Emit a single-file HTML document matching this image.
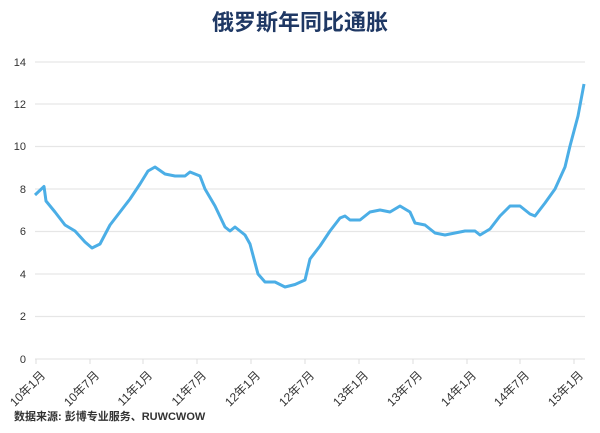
<!DOCTYPE html>
<html><head><meta charset="utf-8"><style>
body{margin:0;background:#fff;width:600px;height:428px;overflow:hidden;font-family:"Liberation Sans","Noto Sans CJK SC",sans-serif;}
</style></head><body>
<svg width="600" height="428" xmlns="http://www.w3.org/2000/svg" font-family="Liberation Sans, Noto Sans CJK SC, sans-serif">
<text x="300" y="30" text-anchor="middle" font-size="22" font-weight="bold" fill="#1f3864" font-family="Noto Sans CJK SC, sans-serif">俄罗斯年同比通胀</text>
<g stroke="#e6e6e6" stroke-width="1.2">
<line x1="35" x2="585" y1="62" y2="62"/><line x1="35" x2="585" y1="104" y2="104"/>
<line x1="35" x2="585" y1="146.5" y2="146.5"/><line x1="35" x2="585" y1="189" y2="189"/>
<line x1="35" x2="585" y1="231.5" y2="231.5"/><line x1="35" x2="585" y1="274" y2="274"/>
<line x1="35" x2="585" y1="316.5" y2="316.5"/><line x1="35" x2="585" y1="359" y2="359"/>
</g>
<g font-size="11" fill="#333" text-anchor="end">
<text x="26" y="66">14</text><text x="26" y="108">12</text><text x="26" y="150">10</text>
<text x="26" y="193">8</text><text x="26" y="235">6</text><text x="26" y="278">4</text>
<text x="26" y="320">2</text><text x="26" y="363">0</text>
</g>
<g stroke="#ddd" stroke-width="1">
<line x1="36" x2="36" y1="359" y2="364"/><line x1="90" x2="90" y1="359" y2="364"/>
<line x1="143" x2="143" y1="359" y2="364"/><line x1="197" x2="197" y1="359" y2="364"/>
<line x1="251" x2="251" y1="359" y2="364"/><line x1="305" x2="305" y1="359" y2="364"/>
<line x1="359" x2="359" y1="359" y2="364"/><line x1="413" x2="413" y1="359" y2="364"/>
<line x1="467" x2="467" y1="359" y2="364"/><line x1="520" x2="520" y1="359" y2="364"/>
<line x1="574" x2="574" y1="359" y2="364"/>
</g>
<g font-size="12" fill="#333" text-anchor="end" font-family="Liberation Sans, Noto Sans CJK SC, sans-serif">
<text transform="translate(46,376) rotate(-45)">10年1月</text>
<text transform="translate(100,376) rotate(-45)">10年7月</text>
<text transform="translate(153,376) rotate(-45)">11年1月</text>
<text transform="translate(207,376) rotate(-45)">11年7月</text>
<text transform="translate(261,376) rotate(-45)">12年1月</text>
<text transform="translate(315,376) rotate(-45)">12年7月</text>
<text transform="translate(369,376) rotate(-45)">13年1月</text>
<text transform="translate(423,376) rotate(-45)">13年7月</text>
<text transform="translate(477,376) rotate(-45)">14年1月</text>
<text transform="translate(530,376) rotate(-45)">14年7月</text>
<text transform="translate(584,376) rotate(-45)">15年1月</text>
</g>
<polyline fill="none" stroke="#4baee6" stroke-width="3" stroke-linejoin="round" points="
35,195 44,186.5 46,201 55,212 65,225 75,231 85,242 92,248 100,244 110,225 120,212 130,199 140,184 148,171 155,167 165,174 175,176 185,176 190,172 200,176 205,189 215,206 225,227 230,231 235,227 245,235 250,244 258,274 265,282 275,282 285,287 295,284.5 305,280 310,259 320,246 330,231 340,218 345,216 350,220 360,220 370,212 380,210 390,212 400,206 410,212 415,223 425,225 435,233 445,235 455,233 465,231 475,231 480,235 490,229 500,216 510,206 520,206 530,214 535,216 545,203 555,189 565,167 570,146 578,116 584,84"/>
<text x="14" y="420" font-size="11" font-weight="bold" fill="#333">数据来源: 彭博专业服务、RUWCWOW</text>
</svg>
</body></html>
